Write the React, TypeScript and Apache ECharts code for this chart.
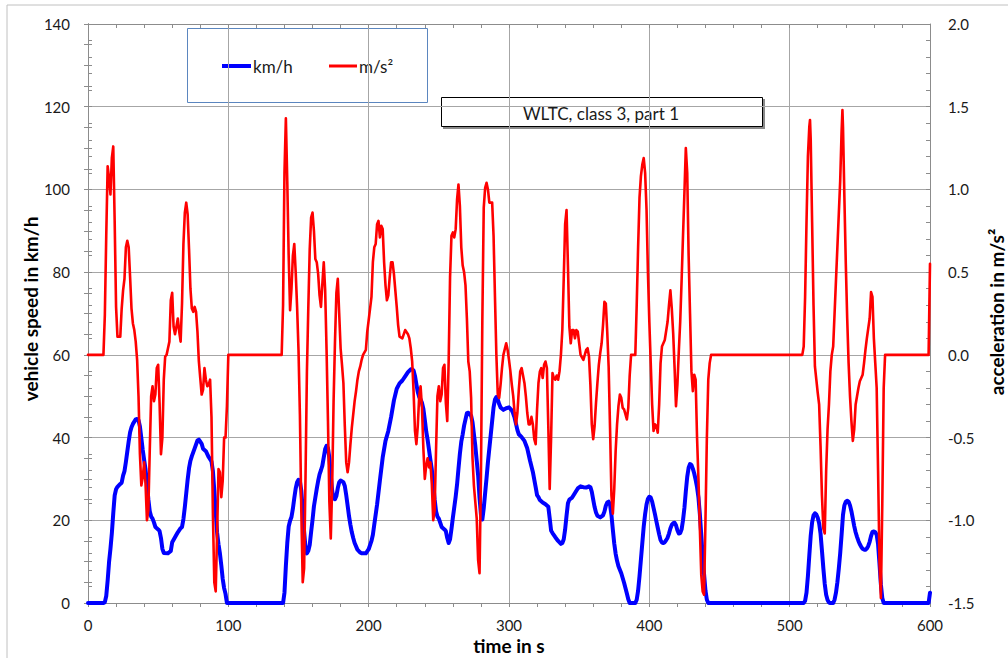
import React, { useEffect, useRef } from "react";
import * as echarts from "echarts";

// time in s, vehicle speed in km/h
const speedPart1: number[][] = [
  [0, 0], [11, 0], [12, 0.2], [13, 1.7], [14, 5.4], [15, 9.9], [16, 13.1], [17, 16.9], [18, 21.7], [19, 26.0],
  [20, 27.5], [21, 28.1], [23, 28.8], [24, 29.1], [25, 30.8], [26, 31.9], [27, 34.1], [28, 36.6], [29, 39.1],
  [30, 41.3], [31, 42.5], [32, 43.3], [34, 44.4], [35, 44.5], [36, 44.2], [37, 42.7], [38, 39.9], [39, 37.0],
  [40, 34.6], [41, 32.3], [42, 29.0], [43, 25.1], [44, 22.2], [45, 20.9], [46, 20.4], [47, 19.5], [48, 18.4],
  [50, 17.8], [51, 17.4], [52, 15.7], [53, 13.1], [54, 12.1], [57, 12.0], [59, 12.6], [60, 14.7], [62, 15.9],
  [64, 17.1], [66, 18.1], [67, 18.4], [68, 20.3], [69, 23.2], [70, 26.5], [71, 29.8], [72, 32.6], [73, 34.4],
  [74, 35.5], [76, 37.4], [78, 39.3], [79, 39.5], [80, 39.0], [81, 38.5], [82, 37.3], [84, 36.7], [86, 35.3],
  [88, 34.2], [89, 31.9], [90, 27.3], [91, 22.0], [92, 17.0], [93, 14.2], [94, 12.0], [95, 9.1], [96, 5.8],
  [97, 3.6], [98, 2.2], [99, 0], [139, 0],
];
const speedPart2: number[][] = [
  [140, 2.5], [141, 9], [142, 14.5], [143, 18.5], [144, 19.9], [145, 20.8], [146, 22.8], [147, 25.4], [148, 27.7],
  [149, 29.2], [150, 29.8], [151, 29.4], [152, 27.2], [153, 22.6], [154, 17.3], [155, 13.3], [156, 12.0],
  [157, 12.6], [158, 14.1], [159, 17.2], [160, 20.1], [161, 23.4], [162, 25.5], [163, 27.6], [164, 29.5],
  [165, 31.1], [166, 32.1], [167, 33.2], [168, 35.2], [169, 37.2], [170, 38.0], [171, 37.4], [172, 35.1],
  [173, 31.0], [174, 27.1], [175, 25.3], [176, 25.1], [177, 25.9], [178, 27.8], [179, 29.2], [180, 29.6],
  [182, 29.2], [183, 28.3], [184, 26.1], [185, 23.6], [186, 21.0], [187, 18.9], [188, 17.1], [189, 15.7],
  [190, 14.5], [192, 12.9], [194, 12.2], [195, 12.0], [198, 12.0], [200, 13.0], [202, 15.0], [203, 16.5],
  [204, 19.0], [206, 23.8], [208, 29.6], [210, 35.2], [212, 39.2], [214, 41.6], [216, 45.0], [218, 49.0],
  [220, 51.8], [222, 53.1], [224, 53.8], [226, 54.8], [228, 55.8], [230, 56.5], [231, 56.5], [232, 56.2],
  [233, 54.9], [234, 52.9], [235, 51.0], [236, 49.8], [237, 49.2], [238, 48.4], [239, 46.9], [240, 44.3],
  [241, 41.5], [242, 39.5], [244, 34.6], [245, 32.3], [246, 29.0], [247, 25.1], [248, 22.2], [249, 20.9],
  [250, 20.4], [252, 18.4], [254, 17.8], [255, 17.4], [256, 15.7], [257, 14.5], [258, 15.4], [259, 17.9],
  [260, 20.6], [262, 25.7], [263, 28.7], [264, 32.5], [265, 36.1], [266, 39.0], [267, 40.8], [268, 42.9],
  [269, 44.4], [270, 45.9], [271, 46.0], [272, 45.6], [273, 45.3], [274, 43.7], [275, 40.8], [276, 38.0],
  [277, 34.4], [278, 30.9], [279, 25.5], [280, 21.4], [281, 20.2], [282, 22.9], [283, 26.6], [284, 30.2],
  [285, 34.1], [286, 37.4], [287, 40.7], [288, 44.0], [289, 47.3], [290, 49.2], [291, 49.8], [292, 49.2],
  [293, 48.1], [294, 47.3], [296, 46.7], [298, 47.1], [300, 47.3], [302, 46.6], [303, 45.8], [304, 44.8],
  [305, 43.3], [306, 41.8], [307, 40.8], [309, 40.1], [311, 39.2], [313, 37.4], [315, 34.4], [317, 31.7],
  [319, 28.0], [320, 26.1], [321, 25.6], [322, 24.9], [324, 24.3], [326, 23.9], [328, 23.3], [329, 20.5],
  [330, 17.5], [331, 16.9], [333, 15.9], [335, 15.0], [337, 14.3], [338, 14.5], [339, 15.4], [340, 17.8],
  [341, 21.1], [342, 24.1], [343, 25.0], [345, 25.5], [347, 26.6], [349, 27.7], [351, 28.2], [353, 28.0],
  [355, 27.9], [357, 28.2], [358, 28.0], [359, 26.9], [360, 25.0], [361, 23.2], [362, 21.9], [363, 21.1],
  [365, 20.7], [367, 21.2], [368, 22.1], [369, 23.5], [370, 24.3], [371, 24.5], [372, 23.8], [373, 21.3],
  [374, 17.7], [375, 14.4], [376, 11.9], [377, 10.2], [378, 8.9], [380, 7.2], [382, 4.9], [384, 2.3],
  [385, 0.9], [386, 0], [390, 0],
];
const speedPart3: number[][] = [
  [391, 0.8], [392, 3], [393, 6.5], [394, 10.5], [395, 14.5], [396, 18.5], [397, 21.5], [398, 23.8], [399, 25.2],
  [400, 25.7], [401, 25.5], [402, 24.5], [403, 23], [404, 21.5], [405, 19.8], [406, 18.2], [407, 16.6],
  [408, 15.2], [409, 14.6], [410, 14.5], [411, 14.7], [412, 15.2], [413, 15.8], [414, 16.8], [415, 18],
  [416, 18.9], [417, 19.3], [418, 19.4], [419, 18.8], [420, 17.6], [421, 16.8], [422, 16.9], [423, 17.8],
  [424, 20], [425, 23], [426, 27], [427, 30.5], [428, 32.7], [429, 33.6], [430, 33.4], [431, 32.5],
  [432, 31.3], [433, 29.8], [434, 28], [435, 25.5], [436, 21.5], [437, 16.5], [438, 11.5], [439, 7],
  [440, 3], [441, 0.8], [442, 0],
];
const speedPart4: number[][] = [
  [510, 0], [511, 0.5], [512, 2.5], [513, 6.5], [514, 11.5], [515, 16.3], [516, 19.5], [517, 21.2], [518, 21.7],
  [519, 21.4], [520, 20.6], [521, 19.3], [522, 16.8], [523, 12.7], [524, 8.4], [525, 4.6], [526, 2.0],
  [527, 0.7], [528, 0.1], [529, 0], [531, 0], [532, 0.8], [533, 2.5], [534, 5], [535, 8.3], [536, 12],
  [537, 16.5], [538, 21.3], [539, 23.6], [540, 24.5], [541, 24.7], [542, 24.5], [543, 23.6], [544, 22.2],
  [545, 20.4], [546, 18.6], [547, 17.1], [548, 16], [549, 15], [550, 14.2], [551, 13.6], [552, 13.1],
  [553, 12.9], [554, 12.9], [555, 13.2], [556, 13.8], [557, 14.8], [558, 16.2], [559, 17.2], [560, 17.3],
  [561, 17.1], [562, 16.5], [563, 14.2], [564, 9.5], [565, 4.5], [566, 1.2], [567, 0], [599, 0], [600, 2.5],
];

// time in s, acceleration in m/s²
const accelPart1: number[][] = [
  [0, 0], [11, 0], [12, 0.24], [13, 0.72], [14, 1.14], [15, 1.07], [16, 0.97], [17, 1.19], [18, 1.26], [19, 0.81],
  [20, 0.29], [21, 0.11], [23, 0.11], [24, 0.28], [25, 0.39], [26, 0.46], [27, 0.65], [28, 0.69], [29, 0.65],
  [30, 0.47], [31, 0.28], [32, 0.19], [33, 0.15], [34, 0.08], [35, -0.03], [36, -0.25], [37, -0.6], [38, -0.79],
  [39, -0.74], [40, -0.65], [41, -0.78], [42, -1.0], [43, -0.94], [44, -0.58], [45, -0.25], [46, -0.19],
  [47, -0.28], [48, -0.24], [49, -0.08], [50, -0.06], [51, -0.29], [52, -0.6], [53, -0.5], [54, -0.15],
  [55, -0.01], [56, 0], [57, 0.04], [58, 0.08], [59, 0.33], [60, 0.375], [61, 0.17], [62, 0.125], [63, 0.17],
  [64, 0.22], [65, 0.14], [66, 0.08], [67, 0.31], [68, 0.67], [69, 0.86], [70, 0.92], [71, 0.85], [72, 0.64],
  [73, 0.4], [74, 0.28], [75, 0.26], [76, 0.29], [77, 0.26], [78, 0.14], [79, -0.04], [80, -0.14], [81, -0.24],
  [82, -0.21], [83, -0.08], [84, -0.15], [85, -0.19], [86, -0.18], [87, -0.15], [88, -0.375], [89, -0.96],
  [90, -1.375], [91, -1.43], [92, -1.08], [93, -0.69], [94, -0.71], [95, -0.86], [96, -0.76], [97, -0.5],
  [98, -0.5], [99, -0.31], [100, 0], [138, 0],
];
const accelPart2: number[][] = [
  [139, 0.3], [140, 1.1], [141, 1.43], [142, 1.05], [143, 0.6], [144, 0.27], [145, 0.4], [146, 0.6], [147, 0.67],
  [148, 0.5], [149, 0.29], [150, 0.03], [151, -0.36], [152, -0.94], [153, -1.375], [154, -1.29], [155, -0.74],
  [156, -0.1], [157, 0.29], [158, 0.64], [159, 0.83], [160, 0.86], [161, 0.75], [162, 0.58], [163, 0.56],
  [164, 0.49], [165, 0.36], [166, 0.29], [167, 0.43], [168, 0.56], [169, 0.39], [170, 0.03], [171, -0.4],
  [172, -0.89], [173, -1.11], [174, -0.79], [175, -0.28], [176, 0.08], [177, 0.375], [178, 0.46], [179, 0.25],
  [180, 0.04], [181, -0.06], [182, -0.17], [183, -0.43], [184, -0.65], [185, -0.71], [186, -0.65], [187, -0.54],
  [188, -0.44], [189, -0.36], [190, -0.28], [191, -0.22], [192, -0.15], [193, -0.1], [194, -0.07], [195, -0.03],
  [196, 0], [198, 0.03], [199, 0.14], [200, 0.21], [201, 0.28], [202, 0.35], [203, 0.56], [204, 0.65],
  [205, 0.67], [206, 0.79], [207, 0.81], [208, 0.71], [209, 0.78], [210, 0.76], [211, 0.56], [212, 0.42],
  [213, 0.33], [214, 0.36], [215, 0.47], [216, 0.56], [217, 0.56], [218, 0.49], [219, 0.39], [220, 0.29],
  [221, 0.18], [222, 0.11], [224, 0.1], [226, 0.15], [228, 0.125], [229, 0.1], [230, 0.04], [231, -0.04],
  [232, -0.22], [233, -0.46], [234, -0.54], [235, -0.43], [236, -0.25], [237, -0.19], [238, -0.32], [239, -0.57],
  [240, -0.75], [241, -0.67], [242, -0.625], [243, -0.68], [244, -0.65], [245, -0.78], [246, -1.0], [247, -0.94],
  [248, -0.58], [249, -0.25], [250, -0.19], [251, -0.28], [252, -0.24], [253, -0.08], [254, -0.06], [255, -0.29],
  [256, -0.4], [257, -0.04], [258, 0.47], [259, 0.72], [260, 0.74], [261, 0.71], [262, 0.76], [263, 0.94],
  [264, 1.03], [265, 0.9], [266, 0.65], [267, 0.54], [268, 0.5], [269, 0.42], [270, 0.22], [271, -0.04],
  [272, -0.1], [273, -0.26], [274, -0.625], [275, -0.79], [276, -0.89], [277, -0.99], [278, -1.24], [279, -1.32],
  [280, -0.74], [281, 0.21], [282, 0.89], [283, 1.01], [284, 1.04], [285, 1.0], [286, 0.92], [288, 0.92],
  [289, 0.72], [290, 0.35], [291, 0], [292, -0.24], [293, -0.26], [294, -0.18], [295, -0.08], [296, 0],
  [298, 0.07], [299, 0.03], [300, -0.03], [301, -0.1], [302, -0.18], [303, -0.25], [304, -0.35], [305, -0.42],
  [306, -0.35], [307, -0.21], [308, -0.1], [309, -0.08], [310, -0.125], [311, -0.17], [312, -0.25], [313, -0.35],
  [314, -0.42], [315, -0.42], [316, -0.375], [317, -0.42], [318, -0.51], [319, -0.54], [320, -0.33], [321, -0.17],
  [322, -0.1], [323, -0.08], [324, -0.14], [325, -0.06], [326, -0.04], [327, -0.08], [328, -0.43], [329, -0.81],
  [330, -0.5], [331, -0.11], [332, -0.14], [333, -0.15], [334, -0.125], [335, -0.15], [336, -0.1], [337, 0],
  [338, 0.15], [339, 0.46], [340, 0.79], [341, 0.875], [342, 0.54], [343, 0.17], [344, 0.07], [345, 0.15],
  [346, 0.15], [347, 0.1], [348, 0.15], [349, 0.14], [350, 0.07], [351, 0], [353, -0.03], [355, 0.03],
  [356, 0.04], [357, -0.01], [358, -0.18], [359, -0.42], [360, -0.51], [361, -0.43], [362, -0.29], [363, -0.17],
  [364, -0.06], [365, 0.01], [366, 0.07], [367, 0.18], [368, 0.32], [369, 0.31], [370, 0.14], [371, -0.07],
  [372, -0.44], [373, -0.85], [374, -0.96], [375, -0.81], [376, -0.58], [377, -0.42], [378, -0.31], [379, -0.24],
  [380, -0.26], [381, -0.32], [382, -0.33], [383, -0.36], [384, -0.39], [385, -0.32], [386, -0.125], [387, 0],
  [390, 0],
];
const accelPart3: number[][] = [
  [391, 0.3], [392, 0.65], [393, 0.95], [394, 1.08], [395, 1.15], [396, 1.19], [397, 1.1], [398, 0.88], [399, 0.5],
  [400, 0.2], [401, -0.05], [402, -0.3], [403, -0.46], [404, -0.42], [405, -0.43], [406, -0.47], [407, -0.3],
  [408, -0.05], [409, 0.05], [411, 0.09], [413, 0.2], [414, 0.3], [415, 0.39], [416, 0.28], [417, 0.13],
  [418, -0.08], [419, -0.31], [420, -0.18], [421, 0.02], [422, 0.2], [423, 0.45], [424, 0.72], [425, 0.98],
  [426, 1.25], [427, 1.1], [428, 0.6], [429, 0.25], [430, -0.1], [431, -0.22], [432, -0.12], [433, -0.15],
  [434, -0.5], [435, -0.75], [436, -1.05], [437, -1.33], [438, -1.43], [439, -1.45], [440, -1.0], [441, -0.5],
  [442, -0.15], [443, -0.05], [444, 0],
];
const accelPart4: number[][] = [
  [509, 0], [510, 0.05], [511, 0.35], [512, 0.8], [513, 1.2], [514, 1.38], [514.5, 1.42], [515, 1.3], [516, 0.8],
  [517, 0.3], [518, -0.07], [519, -0.15], [520, -0.23], [521, -0.3], [522, -0.55], [523, -0.85], [524, -1.05],
  [525, -1.08], [526, -0.7], [527, -0.45], [528, -0.3], [529, -0.1], [530, 0], [531, 0.05], [532, 0.25],
  [533, 0.45], [534, 0.65], [535, 0.85], [536, 1.05], [537, 1.35], [537.6, 1.48], [538, 1.38], [539, 0.95],
  [540, 0.55], [541, 0.22], [542, -0.05], [543, -0.25], [544, -0.4], [545, -0.52], [546, -0.45], [547, -0.3],
  [548, -0.25], [549, -0.2], [550, -0.16], [551, -0.14], [552, -0.12], [553, -0.05], [554, 0.03], [555, 0.1],
  [556, 0.16], [557, 0.22], [558, 0.38], [559, 0.35], [560, 0.1], [561, -0.05], [562, -0.2], [563, -0.7],
  [564, -1.25], [565, -1.47], [566, -0.9], [567, -0.2], [568, 0], [599, 0], [600, 0.55],
];

const speedSeries = [...speedPart1, ...speedPart2, ...speedPart3, ...speedPart4];
const accelSeries = [...accelPart1, ...accelPart2, ...accelPart3, ...accelPart4];

const chartTitle = "WLTC, class 3, part 1";
const speedName = "km/h";
const accelName = "m/s²";
const xAxisTitle = "time in s";
const leftAxisTitle = "vehicle speed in km/h";
const rightAxisTitle = "acceleration in m/s²";

const FONT = "Lato, 'Open Sans', sans-serif";
const AXIS_GRAY = "#8c8c8c";
const GRID_GRAY = "#a6a6a6";

export default function App() {
  const ref = useRef<HTMLDivElement>(null);

  useEffect(() => {
    if (!ref.current) return;
    const chart = echarts.init(ref.current, undefined, { renderer: "svg" });

    const tickLine = { color: AXIS_GRAY, width: 1 };
    const xBase = {
      type: "value",
      min: 0,
      max: 600,
      interval: 100,
      axisLine: { show: true, onZero: false, lineStyle: tickLine },
      minorTick: { show: true, splitNumber: 5, length: 4, lineStyle: tickLine },
    };
    const leftBase = {
      type: "value",
      position: "left",
      min: 0,
      max: 140,
      interval: 20,
      axisLine: { show: true, lineStyle: tickLine },
      minorTick: { show: true, splitNumber: 4, length: 4, lineStyle: tickLine },
    };
    const rightBase = {
      type: "value",
      position: "right",
      min: -1.5,
      max: 2.0,
      interval: 0.5,
      axisLine: { show: true, lineStyle: tickLine },
      minorTick: { show: true, splitNumber: 5, length: 4, lineStyle: tickLine },
      splitLine: { show: false },
    };

    const option: any = {
      animation: false,
      backgroundColor: "#ffffff",
      textStyle: { fontFamily: FONT },
      grid: { left: 88, right: 78, top: 24, bottom: 55, containLabel: false },
      xAxis: [
        {
          ...xBase,
          axisTick: { show: true, length: 4, lineStyle: tickLine },
          axisLabel: { show: true, fontSize: 15, color: "#1a1a1a", margin: 14, fontFamily: FONT },
          splitLine: { show: true, lineStyle: { color: GRID_GRAY, width: 1 } },
        },
        {
          ...xBase,
          axisTick: { show: true, inside: true, length: 4, lineStyle: tickLine },
          axisLabel: { show: false },
          splitLine: { show: false },
        },
      ],
      yAxis: [
        {
          ...leftBase,
          axisTick: { show: true, length: 4, lineStyle: tickLine },
          axisLabel: { show: true, fontSize: 15, color: "#1a1a1a", margin: 18, fontFamily: FONT },
          splitLine: { show: true, lineStyle: { color: GRID_GRAY, width: 1 } },
        },
        {
          ...rightBase,
          axisTick: { show: true, length: 4, lineStyle: tickLine },
          axisLabel: {
            show: true,
            fontSize: 15,
            color: "#1a1a1a",
            margin: 18,
            fontFamily: FONT,
            formatter: (v: number) => v.toFixed(1),
          },
        },
        {
          ...leftBase,
          axisTick: { show: true, inside: true, length: 4, lineStyle: tickLine },
          axisLabel: { show: false },
          splitLine: { show: false },
        },
        {
          ...rightBase,
          axisTick: { show: true, inside: true, length: 4, lineStyle: tickLine },
          axisLabel: { show: false },
        },
      ],
      series: [
        {
          name: speedName,
          type: "line",
          xAxisIndex: 0,
          yAxisIndex: 0,
          data: speedSeries,
          showSymbol: false,
          clip: false,
          lineStyle: { color: "#0000ff", width: 4, join: "round", cap: "round" },
          itemStyle: { color: "#0000ff" },
          z: 3,
        },
        {
          name: accelName,
          type: "line",
          xAxisIndex: 0,
          yAxisIndex: 1,
          data: accelSeries,
          showSymbol: false,
          clip: false,
          lineStyle: { color: "#ff0000", width: 2.6, join: "round", cap: "round" },
          itemStyle: { color: "#ff0000" },
          z: 4,
        },
      ],
      graphic: [
        {
          type: "rect",
          z: 0,
          silent: true,
          shape: { x: 7, y: 5, width: 1020, height: 680 },
          style: { fill: "none", stroke: "#c0c0c0", lineWidth: 1 },
        },
        {
          type: "group",
          z: 100,
          children: [
            {
              type: "rect",
              shape: { x: 187.5, y: 28.5, width: 240, height: 74 },
              style: { fill: "#ffffff", stroke: "#5b86bf", lineWidth: 1 },
            },
            {
              type: "line",
              shape: { x1: 222, y1: 66, x2: 251, y2: 66 },
              style: { stroke: "#0000ff", lineWidth: 4 },
            },
            {
              type: "text",
              x: 253,
              y: 66,
              style: { text: speedName, font: `17px ${FONT}`, fill: "#1a1a1a", verticalAlign: "middle" },
            },
            {
              type: "line",
              shape: { x1: 329, y1: 66, x2: 357, y2: 66 },
              style: { stroke: "#ff0000", lineWidth: 3 },
            },
            {
              type: "text",
              x: 359,
              y: 66,
              style: { text: accelName, font: `17px ${FONT}`, fill: "#1a1a1a", verticalAlign: "middle" },
            },
          ],
        },
        {
          type: "group",
          z: 100,
          children: [
            {
              type: "rect",
              shape: { x: 443, y: 99, width: 322, height: 30 },
              style: { fill: "#8a8a8a" },
            },
            {
              type: "rect",
              shape: { x: 441.5, y: 97.5, width: 321, height: 29 },
              style: { fill: "#ffffff", stroke: "#000000", lineWidth: 1 },
            },
            {
              type: "text",
              x: 601,
              y: 113,
              style: {
                text: chartTitle,
                font: `17px ${FONT}`,
                fill: "#1a1a1a",
                align: "center",
                verticalAlign: "middle",
              },
            },
          ],
        },
        {
          type: "text",
          z: 100,
          x: 509,
          y: 645,
          style: {
            text: xAxisTitle,
            font: `bold 19px ${FONT}`,
            fill: "#000000",
            align: "center",
            verticalAlign: "middle",
          },
        },
        {
          type: "text",
          z: 100,
          x: 30,
          y: 309,
          rotation: Math.PI / 2,
          style: {
            text: leftAxisTitle,
            font: `bold 19px ${FONT}`,
            fill: "#000000",
            align: "center",
            verticalAlign: "middle",
          },
        },
        {
          type: "text",
          z: 100,
          x: 996,
          y: 312,
          rotation: Math.PI / 2,
          style: {
            text: rightAxisTitle,
            font: `bold 19px ${FONT}`,
            fill: "#000000",
            align: "center",
            verticalAlign: "middle",
          },
        },
      ],
    };

    chart.setOption(option);
    return () => chart.dispose();
  }, []);

  return (
    <div
      ref={ref}
      style={{ position: "fixed", left: 0, top: 0, width: 1008, height: 658, background: "#ffffff" }}
    />
  );
}
